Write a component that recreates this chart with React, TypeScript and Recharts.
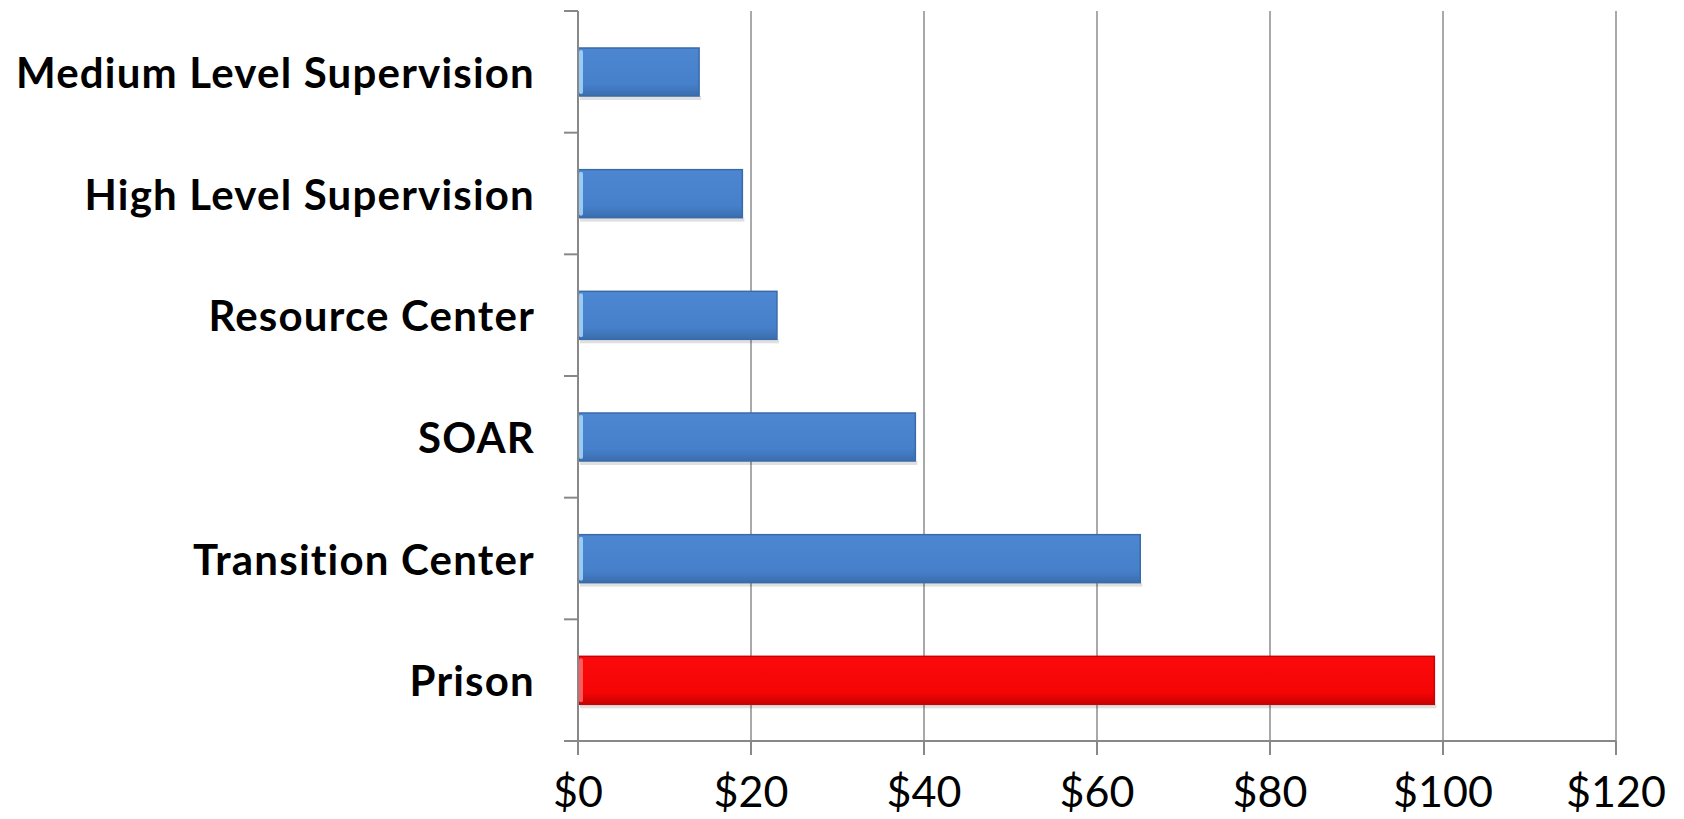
import { BarChart, Bar, XAxis, YAxis, CartesianGrid, Cell } from "recharts";

// Cost per day by program
const categories = [
  "Medium Level Supervision",
  "High Level Supervision",
  "Resource Center",
  "SOAR",
  "Transition Center",
  "Prison",
];
const costs = [14, 19, 23, 39, 65, 99];
const barKinds = ["blue", "blue", "blue", "blue", "blue", "red"];
const xTicks = [0, 20, 40, 60, 80, 100, 120];

const WIDTH = 1684;
const HEIGHT = 819;
const MARGIN = { top: 11, right: 68, bottom: 0, left: 0 };
const Y_AXIS_W = 578;
const X_AXIS_H = 78;
const PLOT_H = HEIGHT - MARGIN.top - MARGIN.bottom - X_AXIS_H;
const BAND = PLOT_H / categories.length;
const AXIS_GREY = "#888888";
const FONT = "Lato, 'Open Sans', sans-serif";

const palette: Record<string, { fill: string; stroke: string; edge: string }> = {
  blue: { fill: "url(#blueBar)", stroke: "#3a6aa8", edge: "#a8d8ff" },
  red: { fill: "url(#redBar)", stroke: "#c80303", edge: "#ff6a6a" },
};

const data = categories.map((name, i) => ({ name, cost: costs[i], kind: barKinds[i] }));

const CategoryTick = (props: any) => {
  const { x, y, payload, index } = props;
  const axisX = x + 29 + 14;
  return (
    <g>
      <text
        x={x}
        y={y}
        textAnchor="end"
        dominantBaseline="central"
        fontFamily={FONT}
        fontWeight={700}
        fontSize={42}
        letterSpacing={1.2}
        fill="#000"
      >
        {payload.value}
      </text>
      <line x1={axisX - 14} x2={axisX} y1={y - BAND / 2} y2={y - BAND / 2} stroke={AXIS_GREY} strokeWidth={2} />
      {index === categories.length - 1 && (
        <line x1={axisX - 14} x2={axisX} y1={y + BAND / 2} y2={y + BAND / 2} stroke={AXIS_GREY} strokeWidth={2} />
      )}
    </g>
  );
};

// bevelled bar: gradient body, light left edge, faint shadow underneath
const BevelBar = (props: any) => {
  const { x, y, width, height, payload } = props;
  const c = palette[payload.kind];
  return (
    <g>
      <rect x={x + 2} y={y + height} width={width} height={4} fill="#000" opacity={0.12} />
      <rect x={x} y={y} width={width} height={height} fill={c.fill} stroke={c.stroke} strokeWidth={1.5} />
      <rect x={x + 1} y={y + 2} width={4} height={height - 4} rx={2} fill={c.edge} opacity={0.85} />
    </g>
  );
};

export default function App() {
  return (
    <div style={{ position: "absolute", left: 0, top: 0, width: WIDTH, height: HEIGHT, background: "#fff" }}>
      <BarChart width={WIDTH} height={HEIGHT} data={data} layout="vertical" margin={MARGIN}>
        <defs>
          <linearGradient id="blueBar" x1="0" y1="0" x2="0" y2="1">
            <stop offset="0%" stopColor="#4d87d1" />
            <stop offset="75%" stopColor="#4680cb" />
            <stop offset="100%" stopColor="#3a6dae" />
          </linearGradient>
          <linearGradient id="redBar" x1="0" y1="0" x2="0" y2="1">
            <stop offset="0%" stopColor="#fa0a0a" />
            <stop offset="75%" stopColor="#f50505" />
            <stop offset="100%" stopColor="#c80202" />
          </linearGradient>
        </defs>
        <CartesianGrid horizontal={false} stroke="#8c8c8c" strokeWidth={1.5} />
        <XAxis
          type="number"
          domain={[0, 120]}
          ticks={xTicks}
          interval={0}
          height={X_AXIS_H}
          tickFormatter={(v: number) => `$${v}`}
          tick={{ fill: "#000", fontSize: 43, fontFamily: FONT, fontWeight: 400 }}
          tickSize={14}
          tickMargin={21}
          axisLine={{ stroke: AXIS_GREY, strokeWidth: 2 }}
          tickLine={{ stroke: AXIS_GREY, strokeWidth: 2 }}
        />
        <YAxis
          type="category"
          dataKey="name"
          width={Y_AXIS_W}
          tick={<CategoryTick />}
          tickSize={14}
          tickMargin={29}
          tickLine={false}
          interval={0}
          axisLine={{ stroke: AXIS_GREY, strokeWidth: 2 }}
        />
        <Bar dataKey="cost" barSize={48} isAnimationActive={false} shape={<BevelBar />}>
          {data.map((d) => (
            <Cell key={d.name} fill={palette[d.kind].fill} />
          ))}
        </Bar>
      </BarChart>
    </div>
  );
}
